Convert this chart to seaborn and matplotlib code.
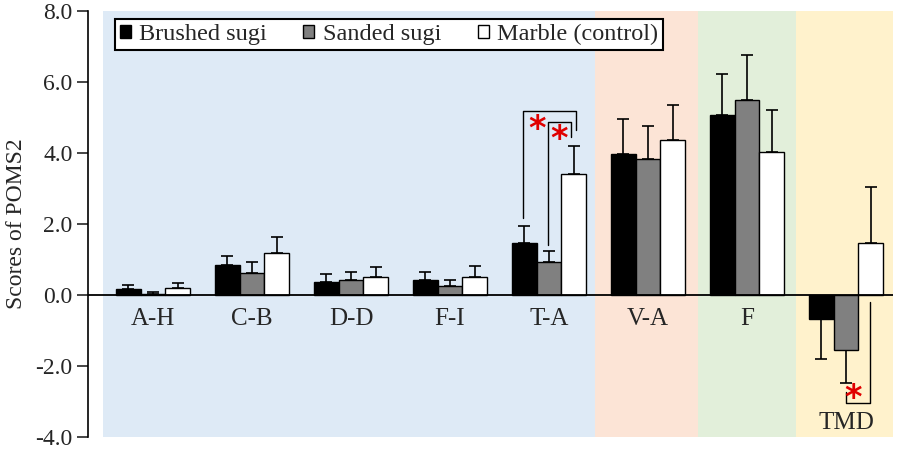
import matplotlib
matplotlib.use("Agg")
import matplotlib.pyplot as plt
from matplotlib.patches import Patch
import seaborn as sns
import pandas as pd
import numpy as np

categories = ["A-H", "C-B", "D-D", "F-I", "T-A", "V-A", "F", "TMD"]
series = ["Brushed sugi", "Sanded sugi", "Marble (control)"]
brushed = [0.17, 0.84, 0.37, 0.41, 1.46, 3.98, 5.07, -0.67]
sanded = [0.04, 0.62, 0.41, 0.26, 0.94, 3.84, 5.48, -1.54]
marble = [0.19, 1.19, 0.51, 0.51, 3.42, 4.37, 4.04, 1.46]
brushed_sd = [0.12, 0.26, 0.21, 0.25, 0.49, 0.98, 1.15, 1.13]
sanded_sd = [0.05, 0.31, 0.25, 0.17, 0.29, 0.91, 1.29, 0.94]
marble_sd = [0.14, 0.43, 0.27, 0.32, 0.79, 0.97, 1.18, 1.57]
yticks = [-4.0, -2.0, 0.0, 2.0, 4.0, 6.0, 8.0]

colors = ["#000000", "#808080", "#ffffff"]
bg_spans = [(-0.505, 4.465, "#deeaf6"), (4.465, 5.505, "#fce4d6"),
            (5.505, 6.495, "#e2efda"), (6.495, 7.6, "#fff2cc")]

rows = []
for s, vals in zip(series, [brushed, sanded, marble]):
    for c, v in zip(categories, vals):
        rows.append({"cat": c, "series": s, "score": v})
df = pd.DataFrame(rows)

sns.set_style("white")
plt.rcParams["font.family"] = ["Liberation Serif", "DejaVu Serif"]
plt.rcParams["mathtext.fontset"] = "dejavusans"

fig = plt.figure(figsize=(8.98, 4.49), dpi=100)
ax = fig.add_axes([88 / 898, 12 / 449, (893 - 88) / 898, 426 / 449])

for x0, x1, col in bg_spans:
    ax.axvspan(x0, x1, color=col, zorder=0, lw=0)

sns.barplot(data=df, x="cat", y="score", hue="series", order=categories,
            hue_order=series, palette=colors, saturation=1, width=0.75,
            errorbar=None, edgecolor="black", linewidth=1.0, ax=ax, zorder=3)

for cont, sds in zip(ax.containers, [brushed_sd, sanded_sd, marble_sd]):
    for bar, sd in zip(cont, sds):
        xc = bar.get_x() + bar.get_width() / 2
        val = bar.get_y() + bar.get_height()
        yerr = [[0], [sd]] if val >= 0 else [[sd], [0]]
        ax.errorbar([xc], [val], yerr=yerr, fmt="none", ecolor="black",
                    elinewidth=1.2, capsize=4, capthick=1.2, zorder=2)

ax.axhline(0, color="black", lw=1.3, zorder=4)

ax.set_xlim(-0.657, 7.475)
ax.set_ylim(-4.0, 8.0)
ax.set_yticks(yticks)
ax.set_yticklabels([f"{t:.1f}" for t in yticks], fontsize=17)
ax.set_xticks([])
ax.set_xlabel("")
ax.set_ylabel("Scores of POMS2", fontsize=17, labelpad=6)
ax.tick_params(axis="y", direction="out", length=8, width=1.2, left=True, pad=3)
for sp in ["top", "right", "bottom"]:
    ax.spines[sp].set_visible(False)
ax.spines["left"].set_color("black")
ax.spines["left"].set_linewidth(1.2)
ax.set_facecolor("white")

for i, c in enumerate(categories):
    y = -3.6 if c == "TMD" else -0.67
    ax.text(i, y, c, ha="center", va="center", fontsize=18, zorder=5)

# significance brackets
ax.plot([3.74, 3.74, 4.27, 4.27], [2.16, 5.17, 5.17, 4.66], color="black", lw=1.0, zorder=5)
ax.plot([3.99, 3.99, 4.22, 4.22], [1.40, 4.86, 4.86, 4.44], color="black", lw=1.0, zorder=5)
ax.plot([7.24, 7.24, 7.0, 7.0], [-0.2, -3.03, -3.03, -2.72], color="black", lw=1.0, zorder=5)
for sx, sy in [(3.88, 4.86), (4.10, 4.58), (7.07, -2.72)]:
    ax.text(sx, sy - 0.17, r"$\mathbf{*}$", color="#e00000", fontsize=24, ha="center",
            va="center", zorder=6)

leg_handles = [Patch(facecolor=c, edgecolor="black", lw=1.0) for c in colors]
if ax.get_legend() is not None:
    ax.get_legend().remove()
leg = ax.legend(leg_handles, series, loc="upper left", bbox_to_anchor=(0.0335, 0.981),
                borderaxespad=0, ncol=3, fontsize=17.5, handlelength=0.45,
                handleheight=0.45, handletextpad=0.35, columnspacing=1.5,
                fancybox=False, framealpha=1, edgecolor="black", borderpad=0.2)
leg.get_frame().set_linewidth(1.5)
leg.set_zorder(10)

fig.savefig("out.png", dpi=100)
